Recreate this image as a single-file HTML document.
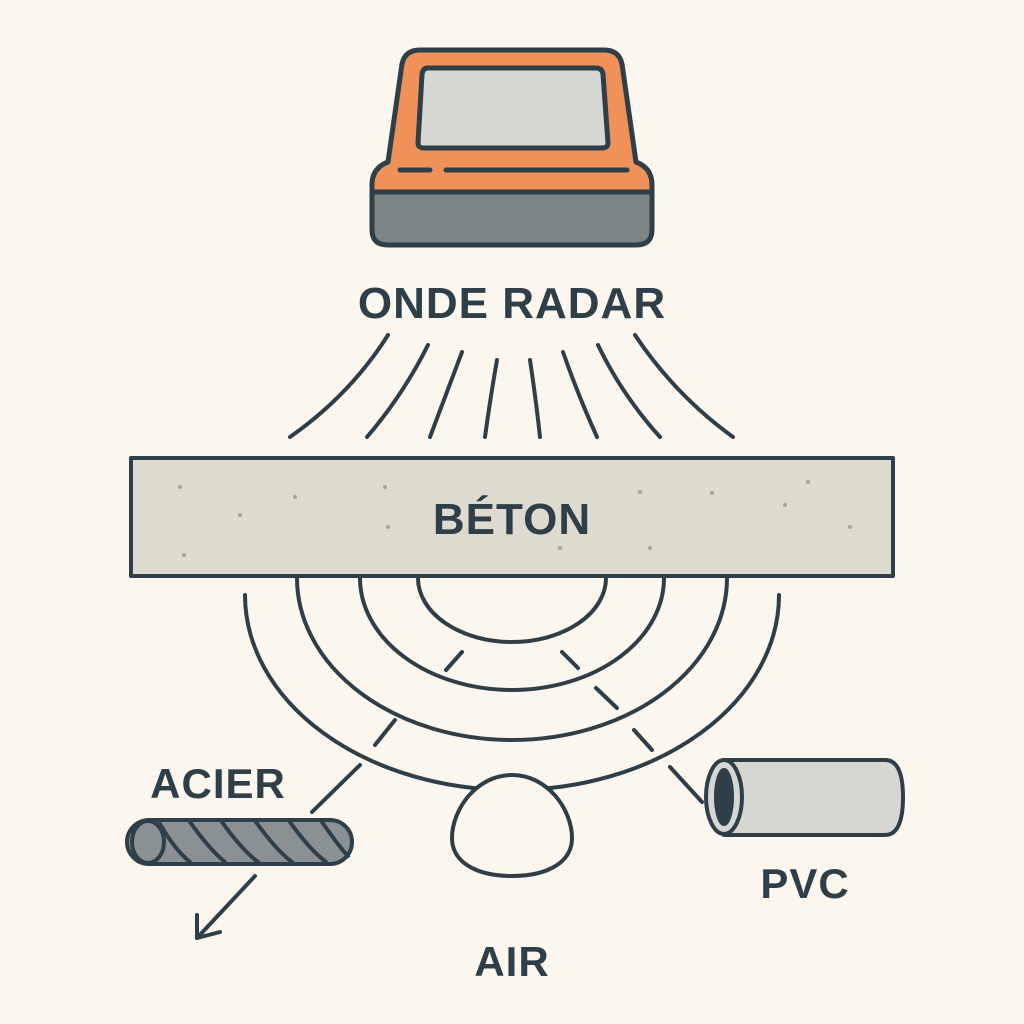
<!DOCTYPE html>
<html><head><meta charset="utf-8"><style>
html,body{margin:0;padding:0;background:#fbf6ee;}
svg{display:block}
text{font-family:"Liberation Sans",sans-serif;font-weight:bold;fill:#2e3f4a;text-anchor:middle}
</style></head><body>
<svg width="1024" height="1024" viewBox="0 0 1024 1024" xmlns="http://www.w3.org/2000/svg">
<rect width="1024" height="1024" fill="#fbf6ee"/>
<g stroke="#2e3f4a" stroke-width="5" stroke-linejoin="round" stroke-linecap="round">
<path d="M372 192 L372 185 Q372 168 388 162 L402 64 Q405 50 420 50 L604 50 Q619 50 622 64 L636 162 Q652 168 652 185 L652 192 Z" fill="#f0915a"/>
<path d="M372 192 L652 192 L652 230 Q652 245 636 245 L388 245 Q372 245 372 230 Z" fill="#7c8586"/>
<path d="M428 68 L596 68 Q602 68 603 74 L608 143 Q608 148 602 148 L424 148 Q418 148 418 143 L422 74 Q423 68 428 68 Z" fill="#d6d6d2"/>
<line x1="400" y1="170" x2="430" y2="170"/>
<line x1="446" y1="170" x2="627" y2="170"/>
<g fill="none" stroke-width="4">
<path d="M388 335 Q350 395 290 437"/>
<path d="M428 345 Q403 395 367 437"/>
<path d="M462 352 Q446 395 430 437"/>
<path d="M497 360 Q490 400 485 437"/>
<path d="M530 360 Q536 400 540 437"/>
<path d="M563 352 Q578 395 597 437"/>
<path d="M598 345 Q622 395 660 437"/>
<path d="M635 335 Q675 395 733 437"/>
</g>
<rect x="131" y="458" width="762" height="118" fill="#dedad0" stroke-width="4"/>
<g fill="none" stroke-width="4">
<path d="M418 578 A94 64 0 0 0 606 578"/>
<path d="M360 578 A152 112 0 0 0 664 578"/>
<path d="M297 578 A215 162 0 0 0 727 578"/>
<path d="M245 595 A267 195 0 0 0 779 595"/>
</g>
<g stroke-width="4">
<line x1="462" y1="652" x2="446" y2="670"/>
<line x1="395" y1="720" x2="375" y2="745"/>
<line x1="360" y1="765" x2="312" y2="812"/>
<line x1="562" y1="652" x2="578" y2="668"/>
<line x1="596" y1="688" x2="617" y2="708"/>
<line x1="634" y1="730" x2="652" y2="750"/>
<line x1="670" y1="767" x2="702" y2="802"/>
</g>
<path d="M512 775 C548 775 572 810 572 838 C572 862 548 876 512 876 C476 876 452 862 452 838 C452 810 476 775 512 775 Z" fill="#fbf6ee" stroke-width="4"/>
<path d="M724 760 L885 760 Q903 760 903 797 Q903 835 885 835 L724 835 Z" fill="#d6d6d2" stroke-width="4"/>
<ellipse cx="724" cy="797" rx="18" ry="37" fill="#d6d6d2" stroke-width="4"/>
<ellipse cx="724" cy="797" rx="9" ry="28" fill="#2e3f4a" stroke-width="2"/>
<rect x="127" y="820" width="225" height="44" rx="22" fill="#8a9194" stroke-width="4"/>
<ellipse cx="148" cy="842" rx="16" ry="21" fill="#8a9194" stroke-width="4"/>
<g fill="none" stroke-width="4">
<path d="M160 824 Q175 850 190 862"/>
<path d="M190 822 Q210 850 225 862"/>
<path d="M222 822 Q242 850 258 862"/>
<path d="M256 822 Q276 850 292 862"/>
<path d="M290 822 Q310 850 326 862"/>
<path d="M322 822 Q340 848 348 856"/>
</g>
<line x1="255" y1="876" x2="197" y2="938" stroke-width="4"/>
<polyline points="197,915 197,938 220,932" fill="none" stroke-width="4"/>
</g>
<g fill="#a9a49a">
<circle cx="180" cy="487" r="2"/><circle cx="295" cy="497" r="2"/><circle cx="240" cy="515" r="2"/><circle cx="184" cy="555" r="2"/><circle cx="385" cy="487" r="2"/><circle cx="388" cy="527" r="2"/><circle cx="640" cy="492" r="2"/><circle cx="712" cy="493" r="2"/><circle cx="785" cy="505" r="2"/><circle cx="850" cy="527" r="2"/><circle cx="650" cy="548" r="2"/><circle cx="560" cy="548" r="2"/><circle cx="808" cy="482" r="2"/>
</g>
<text x="512" y="318" font-size="44" letter-spacing="1">ONDE RADAR</text>
<text x="512" y="534" font-size="44" letter-spacing="1">BÉTON</text>
<text x="218" y="798" font-size="42" letter-spacing="1">ACIER</text>
<text x="805" y="898" font-size="42" letter-spacing="1">PVC</text>
<text x="512" y="976" font-size="42" letter-spacing="1">AIR</text>
</svg>
</body></html>
